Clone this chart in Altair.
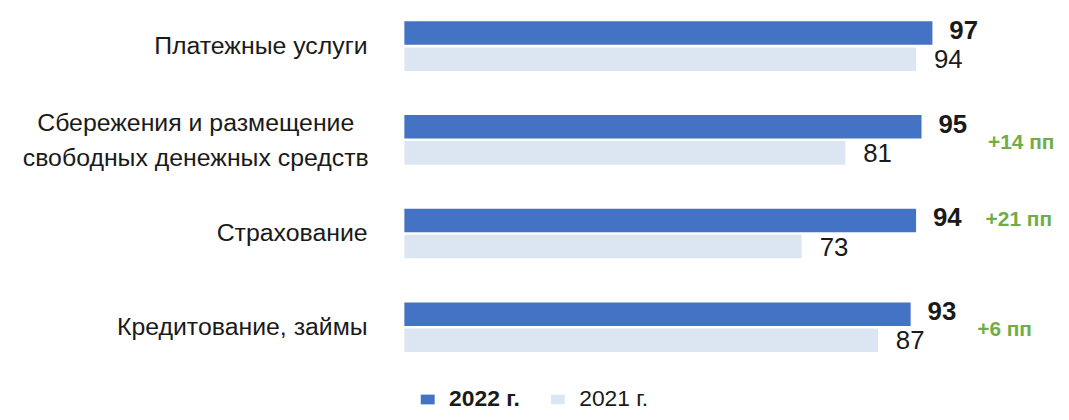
import altair as alt
import pandas as pd

categories = [
    "Платежные услуги",
    "Сбережения и размещение|свободных денежных средств",
    "Страхование",
    "Кредитование, займы",
]
years = ["2022 г.", "2021 г."]
values_2022 = [97, 95, 94, 93]
values_2021 = [94, 81, 73, 87]
deltas = ["", "+14 пп", "+21 пп", "+6 пп"]
delta_on_bar = [False, False, True, False]

FONT = "Liberation Sans, Arial, sans-serif"
DARK = "#4472C4"
LIGHT = "#DCE6F2"
GREEN = "#70AD47"
TXT = "#1a1a1a"

rows = []
for c, a, b in zip(categories, values_2022, values_2021):
    rows.append({"cat": c, "year": years[0], "value": a})
    rows.append({"cat": c, "year": years[1], "value": b})
df = pd.DataFrame(rows)

gdf = pd.DataFrame({
    "cat": categories,
    "year": [years[0]] * 4,
    "value": values_2022,
    "delta": deltas,
    "on_bar": delta_on_bar,
    "multi": ["|" in c for c in categories],
})

x_enc = alt.X("value:Q", scale=alt.Scale(domain=[0, 100], nice=False, zero=True), axis=None)
y_enc = alt.Y(
    "cat:N",
    sort=categories,
    scale=alt.Scale(paddingInner=0.47, paddingOuter=0.127),
    axis=None,
)
yoff = alt.YOffset("year:N", sort=years, scale=alt.Scale(paddingInner=0.1, paddingOuter=0))

base = alt.Chart(df)

bars = base.mark_bar().encode(
    x=x_enc,
    y=y_enc,
    yOffset=yoff,
    color=alt.Color(
        "year:N", sort=years,
        scale=alt.Scale(domain=years, range=[DARK, LIGHT]),
        legend=alt.Legend(
            title=None, orient="none", legendX=12, legendY=381,
            direction="horizontal",
            symbolType="M-1,-0.7L1,-0.7L1,0.7L-1,0.7Z",
            symbolSize=196, symbolStrokeWidth=0, symbolOpacity=1,
            labelFont=FONT, labelFontSize=23, labelColor=TXT,
            labelFontWeight=alt.ExprRef("datum.label == '2022 г.' ? 'bold' : 'normal'"),
            labelOffset=10, columnPadding=26, padding=0, offset=0,
        ),
    ),
)

t22 = base.transform_filter(alt.datum.year == years[0]).mark_text(
    align="left", baseline="middle", dx=17, dy=-2,
    font=FONT, fontSize=26, fontWeight="bold", color=TXT,
).encode(x=x_enc, y=y_enc, yOffset=yoff, text="value:Q")

t21 = base.transform_filter(alt.datum.year == years[1]).mark_text(
    align="left", baseline="middle", dx=18, dy=1,
    font=FONT, fontSize=26, fontWeight="normal", color=TXT,
).encode(x=x_enc, y=y_enc, yOffset=yoff, text="value:Q")

gbase = alt.Chart(gdf)

cat_single = gbase.transform_filter(alt.datum.multi == False).mark_text(
    align="right", baseline="middle", dx=-37, dy=0,
    font=FONT, fontSize=25, color=TXT,
).encode(x=alt.value(0), y=y_enc, text="cat:N")

cat_multi = gbase.transform_filter(alt.datum.multi == True).mark_text(
    align="center", baseline="middle", dx=-210, dy=-17, lineBreak="|", lineHeight=35,
    font=FONT, fontSize=25, color=TXT,
).encode(x=alt.value(0), y=y_enc, text="cat:N")

g_pair = gbase.transform_filter(
    (alt.datum.delta != "") & (alt.datum.on_bar == False)
).mark_text(
    align="left", baseline="middle", dx=67, dy=3,
    font=FONT, fontSize=21, fontWeight="bold", color=GREEN,
).encode(x=x_enc, y=y_enc, text="delta:N")

g_bar = gbase.transform_filter(
    (alt.datum.delta != "") & (alt.datum.on_bar == True)
).mark_text(
    align="left", baseline="middle", dx=70, dy=0,
    font=FONT, fontSize=21, fontWeight="bold", color=GREEN,
).encode(x=x_enc, y=y_enc, yOffset=yoff, text="delta:N")

chart = alt.layer(bars, t22, t21, cat_single, cat_multi, g_pair, g_bar).properties(
    width=548,
    height=357,
    autosize=alt.AutoSizeParams(type="none"),
    padding={"left": 399, "top": 0, "right": 113, "bottom": 47},
).configure_view(stroke=None)

chart.save("out.html", embed_options={"renderer": "svg", "actions": False})
